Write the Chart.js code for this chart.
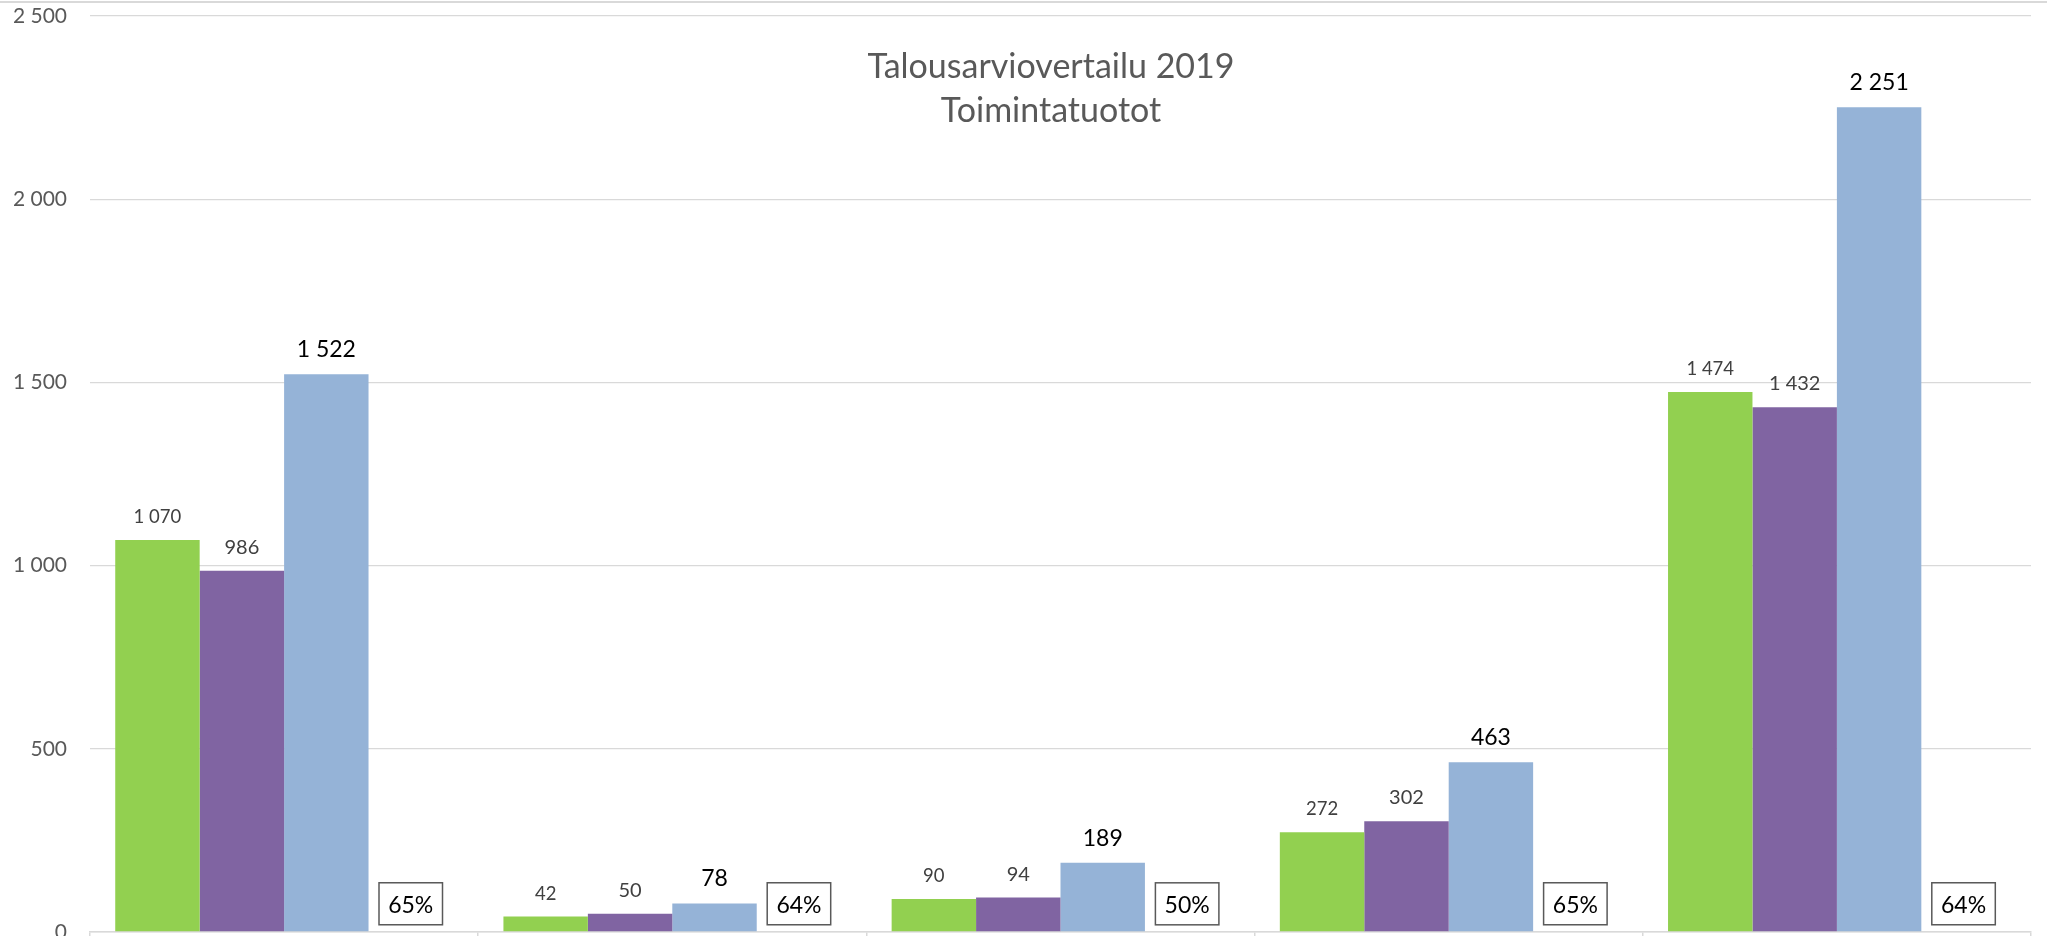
<!DOCTYPE html>
<html>
<head>
<meta charset="utf-8">
<script src="https://cdn.jsdelivr.net/npm/chart.js@4"></script>
<style>
  html, body { margin: 0; padding: 0; background: #fff; overflow: hidden; }
  #wrap { position: relative; width: 2047px; height: 960px; }
</style>
</head>
<body>
<div id="wrap"><canvas id="c"></canvas></div>
<script>
// ---- data ----
const categories = ['1', '2', '3', '4', '5'];
const seriesGreen  = [1070, 42, 90, 272, 1474];
const seriesPurple = [986, 50, 94, 302, 1432];
const seriesBlue   = [1522, 78, 189, 463, 2251];
const percentValues = [65, 64, 50, 65, 64];
const titleLines = ['Talousarviovertailu 2019', 'Toimintatuotot'];
const yTicks = [0, 500, 1000, 1500, 2000, 2500];

const FONT = 'Lato, "Open Sans", sans-serif';

function fmt(v) {
  return String(v).replace(/\B(?=(\d{3})+(?!\d))/g, ' ');
}

const labelStyles = [
  { size: 18.5, color: '#404040' },
  { size: 20, color: '#404040' },
  { size: 23, color: '#000000' }
];

const overlay = {
  id: 'overlay',
  beforeDraw(chart) {
    const ctx = chart.ctx;
    ctx.save();
    ctx.strokeStyle = '#d9d9d9';
    ctx.lineWidth = 2;
    ctx.beginPath();
    ctx.moveTo(0, 2);
    ctx.lineTo(chart.width, 2);
    ctx.stroke();
    ctx.restore();
  },
  afterDatasetsDraw(chart) {
    const ctx = chart.ctx;
    ctx.save();
    for (let d = 0; d < 3; d++) {
      const meta = chart.getDatasetMeta(d);
      const st = labelStyles[d];
      ctx.font = st.size + 'px ' + FONT;
      ctx.fillStyle = st.color;
      ctx.textAlign = 'center';
      ctx.textBaseline = 'alphabetic';
      meta.data.forEach((bar, i) => {
        const v = chart.data.datasets[d].data[i];
        ctx.fillText(fmt(v), bar.x, bar.y - 17);
      });
    }
    const meta = chart.getDatasetMeta(3);
    meta.data.forEach((bar, i) => {
      const w = 63.5, h = 42;
      const bottom = bar.y - 7;
      const top = bottom - h;
      ctx.fillStyle = '#ffffff';
      ctx.fillRect(bar.x - w / 2, top, w, h);
      ctx.strokeStyle = '#595959';
      ctx.lineWidth = 1.5;
      ctx.strokeRect(bar.x - w / 2, top, w, h);
      ctx.font = '23px ' + FONT;
      ctx.fillStyle = '#000000';
      ctx.textAlign = 'center';
      ctx.textBaseline = 'alphabetic';
      ctx.fillText(percentValues[i] + '%', bar.x, bottom - 11.5);
    });
    ctx.font = '34px ' + FONT;
    ctx.fillStyle = '#595959';
    ctx.textAlign = 'center';
    ctx.fillText(titleLines[0], 1051, 78);
    ctx.fillText(titleLines[1], 1051, 122);
    ctx.restore();
  }
};

new Chart(document.getElementById('c'), {
  type: 'bar',
  data: {
    labels: categories,
    datasets: [
      { label: 'A', data: seriesGreen, backgroundColor: '#92d050' },
      { label: 'B', data: seriesPurple, backgroundColor: '#8064a2' },
      { label: 'C', data: seriesBlue, backgroundColor: '#95b3d7' },
      { label: '%', data: percentValues.map(p => p / 100), backgroundColor: 'rgba(0,0,0,0)' }
    ]
  },
  options: {
    responsive: true,
    maintainAspectRatio: false,
    animation: false,
    layout: { padding: { left: 0, right: 16, top: 16, bottom: 0 } },
    datasets: { bar: { categoryPercentage: 0.87, barPercentage: 1.0, borderWidth: 0 } },
    plugins: { legend: { display: false }, tooltip: { enabled: false }, title: { display: false } },
    scales: {
      x: {
        offset: true,
        ticks: { display: false },
        grid: { offset: true, drawOnChartArea: false, drawTicks: true, tickLength: 12, color: '#d9d9d9', lineWidth: 1.5 },
        border: { display: true, color: '#d9d9d9', width: 1.5 },
        afterFit(scale) { scale.height = 28; }
      },
      y: {
        min: 0,
        max: 2500,
        afterBuildTicks(scale) { scale.ticks = yTicks.map(v => ({ value: v })); },
        ticks: {
          padding: 23,
          color: '#595959',
          font: { family: FONT, size: 21 },
          callback: (v) => fmt(v)
        },
        grid: { drawTicks: false, color: '#d9d9d9', lineWidth: 1.3 },
        border: { display: false },
        afterFit(scale) { scale.width = 90; scale.paddingTop = 0; scale.paddingBottom = 0; }
      }
    }
  },
  plugins: [overlay]
});
</script>
</body>
</html>
